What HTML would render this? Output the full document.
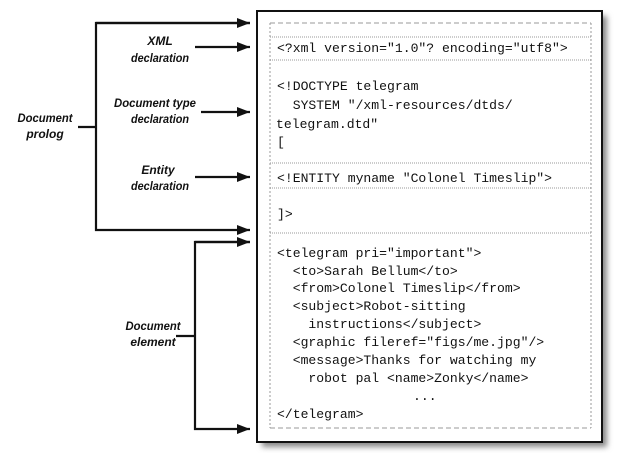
<!DOCTYPE html>
<html><head><style>
html,body{margin:0;padding:0;background:#fff;width:621px;height:453px;overflow:hidden}
svg{display:block}
.m{font-family:"Liberation Mono",monospace;font-size:13.1px;fill:#111}
.l{font-family:"Liberation Sans",sans-serif;font-style:italic;font-weight:bold;font-size:12px;fill:#111;text-anchor:middle}
</style></head><body>
<svg width="621" height="453" viewBox="0 0 621 453" xmlns="http://www.w3.org/2000/svg">
<defs>
<marker id="a" markerWidth="13" markerHeight="10" refX="13" refY="5" orient="auto" markerUnits="userSpaceOnUse">
<path d="M0,0 L13,5 L0,10 Z" fill="#111"/></marker>
<filter id="s" x="-10%" y="-10%" width="130%" height="130%"><feGaussianBlur stdDeviation="3"/></filter>
</defs>
<rect x="262" y="16" width="345" height="431" fill="#888" filter="url(#s)"/>
<rect x="257" y="11" width="345" height="431" fill="#fff" stroke="#111" stroke-width="2"/>
<g fill="none" stroke="#999" stroke-width="1">
<line x1="270" y1="23" x2="591" y2="23" stroke-dasharray="5,3"/>
<line x1="270" y1="428" x2="591" y2="428" stroke-dasharray="5,3"/>
<line x1="270" y1="23" x2="270" y2="428" stroke-dasharray="2,2"/>
<line x1="591" y1="23" x2="591" y2="428" stroke-dasharray="2,2"/>
<g stroke-dasharray="1,1">
<line x1="270" y1="37" x2="591" y2="37"/>
<line x1="270" y1="60" x2="591" y2="60"/>
<line x1="270" y1="163" x2="591" y2="163"/>
<line x1="270" y1="188" x2="591" y2="188"/>
<line x1="270" y1="233" x2="591" y2="233"/>
</g></g>
<g class="m">
<text x="277" y="52">&lt;?xml version="1.0"? encoding="utf8"&gt;</text>
<text x="277" y="90">&lt;!DOCTYPE telegram</text>
<text x="277" y="109" xml:space="preserve">  SYSTEM "/xml-resources/dtds/</text>
<text x="276" y="128">telegram.dtd"</text>
<text x="277" y="146">[</text>
<text x="277" y="182">&lt;!ENTITY myname "Colonel Timeslip"&gt;</text>
<text x="277" y="218">]&gt;</text>
<text x="277" y="257">&lt;telegram pri="important"&gt;</text>
<text x="277" y="275" xml:space="preserve">  &lt;to&gt;Sarah Bellum&lt;/to&gt;</text>
<text x="277" y="292" xml:space="preserve">  &lt;from&gt;Colonel Timeslip&lt;/from&gt;</text>
<text x="277" y="310" xml:space="preserve">  &lt;subject&gt;Robot-sitting</text>
<text x="277" y="328" xml:space="preserve">    instructions&lt;/subject&gt;</text>
<text x="277" y="346" xml:space="preserve">  &lt;graphic fileref="figs/me.jpg"/&gt;</text>
<text x="277" y="364" xml:space="preserve">  &lt;message&gt;Thanks for watching my</text>
<text x="277" y="382" xml:space="preserve">    robot pal &lt;name&gt;Zonky&lt;/name&gt;</text>
<text x="413" y="400">...</text>
<text x="277" y="418">&lt;/telegram&gt;</text>
</g>
<g stroke="#111" stroke-width="2.2" fill="none">
<polyline points="250,23 96,23 96,230 250,230" marker-end="url(#a)"/>
<line x1="96" y1="23" x2="250" y2="23" marker-end="url(#a)"/>
<line x1="78" y1="127" x2="96" y2="127"/>
<line x1="195" y1="47" x2="250" y2="47" marker-end="url(#a)"/>
<line x1="201" y1="112" x2="250" y2="112" marker-end="url(#a)"/>
<line x1="195" y1="177" x2="250" y2="177" marker-end="url(#a)"/>
<polyline points="250,242 195,242 195,429 250,429" marker-end="url(#a)"/>
<line x1="195" y1="242" x2="250" y2="242" marker-end="url(#a)"/>
<line x1="176" y1="336" x2="195" y2="336"/>
</g>
<g class="l">
<text x="160" y="45">XML</text>
<text x="160" y="62" textLength="58" lengthAdjust="spacingAndGlyphs">declaration</text>
<text x="155" y="107" textLength="82" lengthAdjust="spacingAndGlyphs">Document type</text>
<text x="160" y="123" textLength="58" lengthAdjust="spacingAndGlyphs">declaration</text>
<text x="158" y="174">Entity</text>
<text x="160" y="190" textLength="58" lengthAdjust="spacingAndGlyphs">declaration</text>
<text x="45" y="122" textLength="55" lengthAdjust="spacingAndGlyphs">Document</text>
<text x="45" y="138">prolog</text>
<text x="153" y="330" textLength="55" lengthAdjust="spacingAndGlyphs">Document</text>
<text x="153" y="346">element</text>
</g>
</svg>
</body></html>
